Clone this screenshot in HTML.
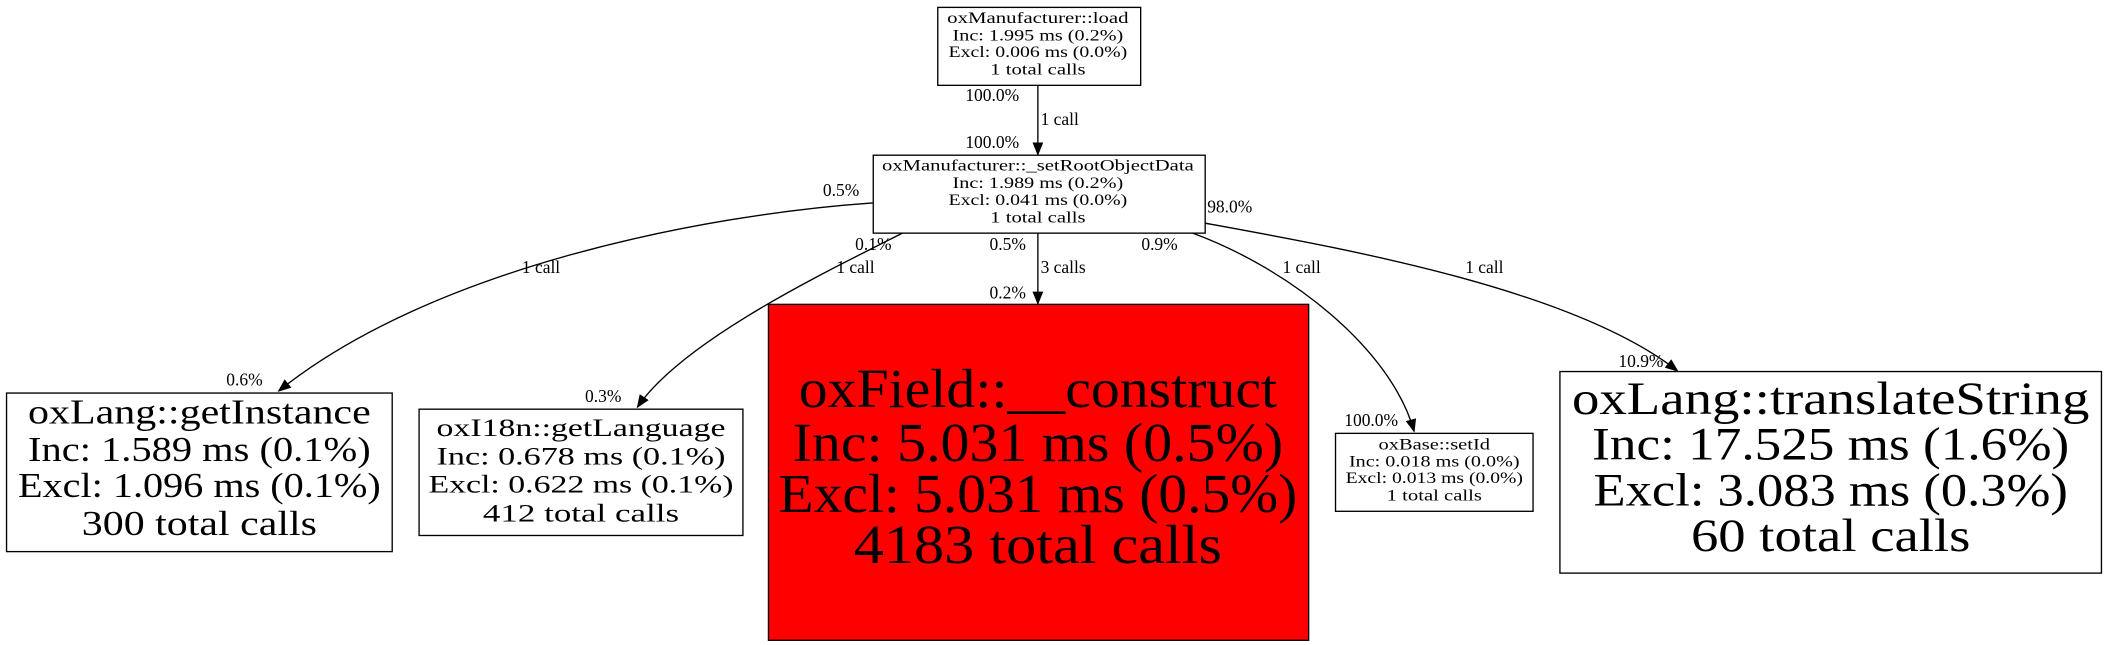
<!DOCTYPE html>
<html><head><meta charset="utf-8"><style>html,body{margin:0;padding:0;background:#fff}svg{display:block}</style></head>
<body>
<svg width="2108" height="645" viewBox="0 0 1568 480" xmlns="http://www.w3.org/2000/svg" font-family="Liberation Serif, serif">
<defs><marker id="a" markerWidth="10" markerHeight="8" refX="9" refY="4" orient="auto" markerUnits="userSpaceOnUse"><path d="M0,0 L10,4 L0,8 z" fill="#000"/></marker></defs>
<rect width="1568" height="480" fill="#fff"/>
<g fill="none" stroke="#000" stroke-width="1">
<path d="M772,63 L772,115" marker-end="url(#a)"/>
<path d="M649,151 C520,160 320,200 207,291" marker-end="url(#a)"/>
<path d="M672,173 C630,195 510,250 474,303" marker-end="url(#a)"/>
<path d="M772,173 L772,226" marker-end="url(#a)"/>
<path d="M886,173 C960,200 1035,260 1052,321" marker-end="url(#a)"/>
<path d="M896,166 C1000,185 1170,215 1248,276" marker-end="url(#a)"/>
</g>
<g stroke="#000" stroke-width="1">
<rect x="697.5" y="5.5" width="151" height="58" fill="#fff"/>
<rect x="649.5" y="115.5" width="247" height="58" fill="#fff"/>
<rect x="4.5" y="292.5" width="287" height="118" fill="#fff"/>
<rect x="311.5" y="304.5" width="241" height="94" fill="#fff"/>
<rect x="571.5" y="226.5" width="402" height="250" fill="#ff0000"/>
<rect x="993.5" y="322.5" width="147" height="58" fill="#fff"/>
<rect x="1160.5" y="276.5" width="403" height="150" fill="#fff"/>
</g>
<g text-anchor="middle" fill="#000">
<g font-size="12"><text x="772" y="17" textLength="135" lengthAdjust="spacingAndGlyphs">oxManufacturer::load</text><text x="772" y="30" textLength="127" lengthAdjust="spacingAndGlyphs">Inc: 1.995 ms (0.2%)</text><text x="772" y="42.5" textLength="133" lengthAdjust="spacingAndGlyphs">Excl: 0.006 ms (0.0%)</text><text x="772" y="55.5" textLength="71" lengthAdjust="spacingAndGlyphs">1 total calls</text></g>
<g font-size="12"><text x="772" y="127" textLength="232" lengthAdjust="spacingAndGlyphs">oxManufacturer::_setRootObjectData</text><text x="772" y="140" textLength="127" lengthAdjust="spacingAndGlyphs">Inc: 1.989 ms (0.2%)</text><text x="772" y="152.5" textLength="133" lengthAdjust="spacingAndGlyphs">Excl: 0.041 ms (0.0%)</text><text x="772" y="165.5" textLength="71" lengthAdjust="spacingAndGlyphs">1 total calls</text></g>
<g font-size="26"><text x="148" y="315" textLength="255" lengthAdjust="spacingAndGlyphs">oxLang::getInstance</text><text x="148" y="343" textLength="255" lengthAdjust="spacingAndGlyphs">Inc: 1.589 ms (0.1%)</text><text x="148" y="370" textLength="270" lengthAdjust="spacingAndGlyphs">Excl: 1.096 ms (0.1%)</text><text x="148" y="398" textLength="175" lengthAdjust="spacingAndGlyphs">300 total calls</text></g>
<g font-size="19"><text x="432" y="324.5" textLength="215" lengthAdjust="spacingAndGlyphs">oxI18n::getLanguage</text><text x="432" y="345.5" textLength="215" lengthAdjust="spacingAndGlyphs">Inc: 0.678 ms (0.1%)</text><text x="432" y="366.5" textLength="227" lengthAdjust="spacingAndGlyphs">Excl: 0.622 ms (0.1%)</text><text x="432" y="388" textLength="146" lengthAdjust="spacingAndGlyphs">412 total calls</text></g>
<g font-size="41"><text x="772" y="303" textLength="356" lengthAdjust="spacingAndGlyphs">oxField::__construct</text><text x="772" y="343" textLength="365" lengthAdjust="spacingAndGlyphs">Inc: 5.031 ms (0.5%)</text><text x="772" y="381" textLength="386" lengthAdjust="spacingAndGlyphs">Excl: 5.031 ms (0.5%)</text><text x="772" y="419" textLength="274" lengthAdjust="spacingAndGlyphs">4183 total calls</text></g>
<g font-size="12"><text x="1067" y="334.5" textLength="83" lengthAdjust="spacingAndGlyphs">oxBase::setId</text><text x="1067" y="347" textLength="127" lengthAdjust="spacingAndGlyphs">Inc: 0.018 ms (0.0%)</text><text x="1067" y="359.5" textLength="132" lengthAdjust="spacingAndGlyphs">Excl: 0.013 ms (0.0%)</text><text x="1067" y="372.5" textLength="71" lengthAdjust="spacingAndGlyphs">1 total calls</text></g>
<g font-size="35"><text x="1362" y="308" textLength="385" lengthAdjust="spacingAndGlyphs">oxLang::translateString</text><text x="1362" y="342" textLength="355" lengthAdjust="spacingAndGlyphs">Inc: 17.525 ms (1.6%)</text><text x="1362" y="376" textLength="353" lengthAdjust="spacingAndGlyphs">Excl: 3.083 ms (0.3%)</text><text x="1362" y="410" textLength="208" lengthAdjust="spacingAndGlyphs">60 total calls</text></g>
</g>
<g font-size="13" fill="#000">
<text x="718" y="75">100.0%</text><text x="774" y="93">1 call</text><text x="718" y="110">100.0%</text>
<text x="612" y="146">0.5%</text><text x="388" y="203">1 call</text><text x="168" y="287">0.6%</text>
<text x="636" y="186">0.1%</text><text x="622" y="203">1 call</text><text x="435" y="299">0.3%</text>
<text x="736" y="186">0.5%</text><text x="774" y="203">3 calls</text><text x="736" y="222">0.2%</text>
<text x="849" y="186">0.9%</text><text x="954" y="203">1 call</text><text x="1000" y="317">100.0%</text>
<text x="898" y="158">98.0%</text><text x="1090" y="203">1 call</text><text x="1204" y="273">10.9%</text>
</g>
</svg>
</body></html>
